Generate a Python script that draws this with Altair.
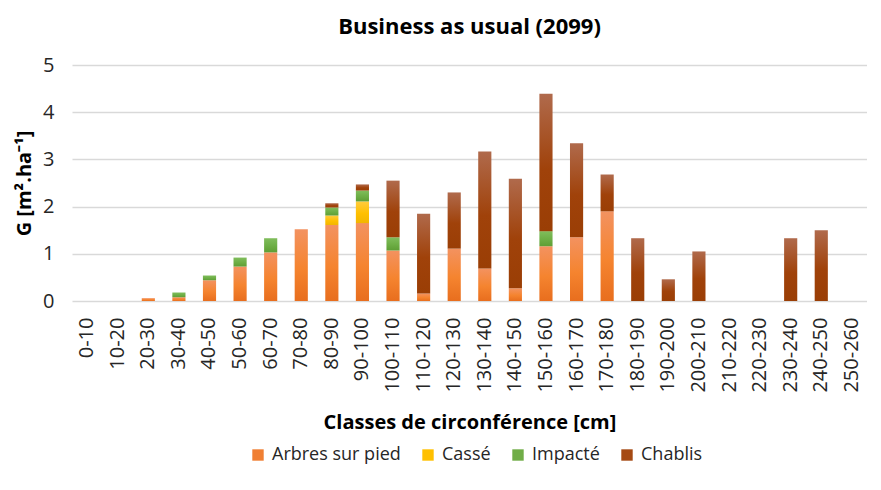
import altair as alt
import pandas as pd

categories = ["0-10","10-20","20-30","30-40","40-50","50-60","60-70","70-80","80-90","90-100",
              "100-110","110-120","120-130","130-140","140-150","150-160","160-170","170-180",
              "180-190","190-200","200-210","210-220","220-230","230-240","240-250","250-260"]
arbres  = [0,0,0.06,0.08,0.44,0.73,1.03,1.52,1.61,1.65,1.07,0.16,1.11,0.69,0.27,1.16,1.35,1.90,0,0,0,0,0,0,0,0]
casse   = [0,0,0,0,0,0,0,0,0.20,0.46,0,0,0,0,0,0,0,0,0,0,0,0,0,0,0,0]
impacte = [0,0,0,0.10,0.10,0.19,0.30,0,0.17,0.23,0.28,0,0,0,0,0.32,0,0,0,0,0,0,0,0,0,0]
chablis = [0,0,0,0,0,0,0,0,0.09,0.13,1.20,1.69,1.19,2.48,2.32,2.91,1.99,0.78,1.33,0.46,1.05,0,0,1.33,1.50,0]

series_names = ["Arbres sur pied", "Cassé", "Impacté", "Chablis"]
series_vals = [arbres, casse, impacte, chablis]
legend_colors = ["#F07F33", "#FFC000", "#70AD47", "#A54A14"]
grad_top = ["#F39260", "#FFCB3E", "#80BD5C", "#B06A4C"]
grad_mid = ["#F5842F", "#FFC000", "#6DAE45", "#A0420A"]
grad_bot = ["#E86E1E", "#F2B600", "#5E9E35", "#9A3E05"]

rows = []
for si, (name, vals) in enumerate(zip(series_names, series_vals)):
    for c, v in zip(categories, vals):
        rows.append({"Classe": c, "Serie": name, "G": v, "ordre": si})
df = pd.DataFrame(rows)

FONT = "Open Sans"

x_enc = alt.X("Classe:N", sort=categories,
              scale=alt.Scale(paddingInner=0.57, paddingOuter=0.28),
              axis=alt.Axis(title="Classes de circonférence [cm]", labelAngle=-90,
                            labelFontSize=20, labelColor="#262626", labelFont=FONT,
                            titleFont=FONT, titleFontSize=20, titleFontWeight="bold",
                            titleColor="#000000", titlePadding=20,
                            ticks=False, domain=False, labelPadding=16))
y_axis = alt.Axis(title="G [m².ha⁻¹]", values=[0, 1, 2, 3, 4, 5],
                  labelFontSize=20, labelColor="#262626", labelFont=FONT,
                  titleFont=FONT, titleFontSize=20, titleFontWeight="bold",
                  titleColor="#000000", titlePadding=8,
                  ticks=False, domain=False, gridColor="#D9D9D9",
                  gridWidth=1.5, labelPadding=18)
y_scale = alt.Scale(domain=[0, 5], nice=False)

base = alt.Chart(df).transform_stack(
    stack="G", groupby=["Classe"], as_=["y0", "y1"],
    sort=[alt.SortField("ordre", order="ascending")],
)

legend_layer = base.mark_bar().encode(
    x=x_enc,
    y=alt.Y("y1:Q", scale=y_scale, axis=y_axis),
    y2="y1:Q",
    color=alt.Color("Serie:N", sort=series_names,
                    scale=alt.Scale(domain=series_names, range=legend_colors),
                    legend=alt.Legend(title=None, orient="none", direction="horizontal",
                                      legendX=177, legendY=381,
                                      symbolType="square", symbolSize=130,
                                      symbolStrokeWidth=0, symbolOffset=0,
                                      labelFontSize=18, labelFont=FONT,
                                      labelColor="#262626", columnPadding=18,
                                      labelOffset=5)),
)

layers = [legend_layer]
for i, name in enumerate(series_names):
    grad = alt.Gradient(gradient="linear",
                        stops=[alt.GradientStop(color=grad_top[i], offset=0),
                               alt.GradientStop(color=grad_mid[i], offset=0.55),
                               alt.GradientStop(color=grad_bot[i], offset=1)],
                        x1=0, x2=0, y1=0, y2=1)
    layers.append(
        base.transform_filter(alt.datum.Serie == name)
        .transform_filter(alt.datum.G > 0)
        .mark_bar(color=grad)
        .encode(x=x_enc,
                y=alt.Y("y0:Q", scale=y_scale, axis=y_axis),
                y2="y1:Q")
    )

chart = alt.layer(*layers).properties(
    width=795, height=236,
    title=alt.TitleParams("Business as usual (2099)", font=FONT, fontSize=22,
                          fontWeight="bold", color="#000000", offset=16),
    padding={"left": 6, "right": 0, "top": 8, "bottom": 10},
).configure_view(stroke=None)

chart.save("out.html", embed_options={"renderer": "svg", "actions": False})
